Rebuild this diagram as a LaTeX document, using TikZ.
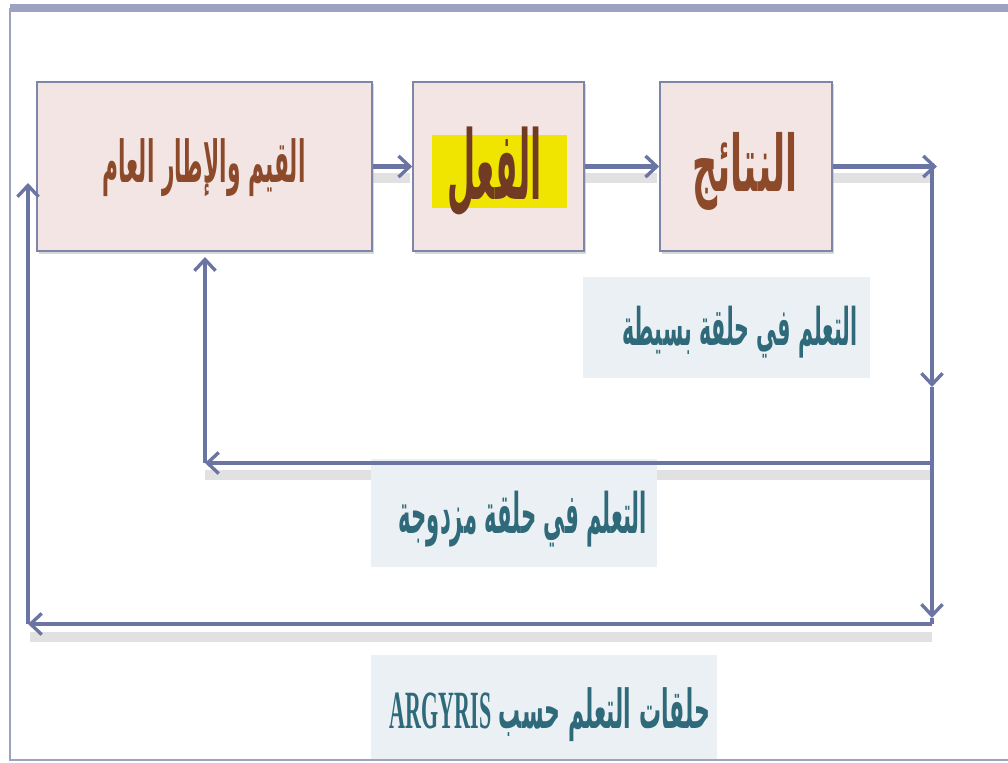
\documentclass[tikz,border=0pt]{standalone}
\usepackage{fontspec}
\usepackage{graphicx}
\usetikzlibrary{arrows.meta}
\TeXXeTstate=1
\newfontfamily\arabicfont[Script=Arabic]{DejaVu Sans}
\newfontfamily\latinserif{Liberation Serif}
\definecolor{linec}{HTML}{6A75A4}
\definecolor{boxfill}{HTML}{F2E5E3}
\definecolor{boxdraw}{HTML}{7D86A8}
\definecolor{labfill}{HTML}{EBF0F4}
\definecolor{browntxt}{HTML}{8C4A2A}
\definecolor{tealtxt}{HTML}{2F6A7A}
\definecolor{framec}{HTML}{9DA2BE}
\definecolor{hilite}{HTML}{F0E500}
\definecolor{shadowc}{HTML}{C9C9C9}
\begin{document}
\begin{tikzpicture}[x=0.025cm,y=-0.025cm,
  mainbox/.style={draw=boxdraw, line width=1.1pt, fill=boxfill, inner sep=0pt, minimum height=4.225cm},
  labbox/.style={fill=labfill, inner sep=0pt},
  txt/.style={inner sep=0pt},
  conn/.style={draw=linec, line width=3pt, -{Straight Barb[length=8pt,width=15pt,line width=2.4pt]}},
  plainline/.style={draw=linec, line width=3pt},
  shad/.style={draw=shadowc, line width=7pt, opacity=0.55},
  boxshad/.style={fill=black!30, opacity=0.5},
]
\useasboundingbox (0,0) rectangle (1008,763);
% coordinates
\coordinate (r1) at (937,166.5);
\coordinate (c1) at (932,166.5);
\coordinate (m1) at (932,387);
\coordinate (c2) at (932,463);
\coordinate (m2) at (932,618);
\coordinate (c3) at (932,624);
\coordinate (c4) at (205,463);
\coordinate (c5) at (28,624);
\coordinate (u1) at (28,183);
\coordinate (u2) at (205,257);
% shadows under horizontal connectors
\draw[shad] (372,178) -- (410,178);
\draw[shad] (584,178) -- (657,178);
\draw[shad] (832,178) -- (932,178);
\draw[shad] (205,475) -- (932,475);
\draw[shad] (30,637) -- (932,637);
% box shadows
\fill[boxshad] (39,84) rectangle (374,253.5);
\fill[boxshad] (415,84) rectangle (586,253.5);
\fill[boxshad] (662,84) rectangle (834,253.5);
% main boxes
\node[mainbox, minimum width=8.375cm] (b1) at (204.5,166.5) {};
\node[mainbox, minimum width=4.275cm] (b2) at (498.5,166.5) {};
\node[mainbox, minimum width=4.3cm] (b3) at (746,166.5) {};
% label boxes
\node[labbox, minimum width=7.175cm, minimum height=2.525cm] (l1) at (726.5,327.5) {};
\node[labbox, minimum width=7.15cm, minimum height=2.7cm] (l2) at (514,513) {};
\node[labbox, minimum width=8.65cm, minimum height=2.625cm] (l3) at (544,707.5) {};
% highlight
\fill[hilite] (432,135) rectangle (567,208);
% texts
\node[txt, text=browntxt] (b1t) at (204,168) {\resizebox*{5.075cm}{1.45cm}{\arabicfont\bfseries\beginR القيم والإطار العام\endR}};
\node[txt, text=browntxt!80!black] (b2t) at (495,172) {\resizebox*{2.35cm}{2.25cm}{\arabicfont\bfseries\beginR الفعل\endR}};
\node[txt, text=browntxt] (b3t) at (745,171) {\resizebox*{2.625cm}{1.95cm}{\arabicfont\bfseries\beginR النتائج\endR}};
\node[txt, text=tealtxt] (l1t) at (740,332) {\resizebox*{5.875cm}{1.3cm}{\arabicfont\bfseries\beginR التعلم في حلقة بسيطة\endR}};
\node[txt, text=tealtxt] (l2t) at (523,519) {\resizebox*{6.2cm}{1.4cm}{\arabicfont\bfseries\beginR التعلم في حلقة مزدوجة\endR}};
\node[txt, text=tealtxt] (l3t) at (550,715) {\resizebox*{8cm}{1.35cm}{\arabicfont\bfseries\beginR حلقات التعلم حسب \beginL{\latinserif ARGYRIS}\endL\endR}};
% connectors
\draw[conn] (b1) -- (b2);
\draw[conn] (b2) -- (b3);
\draw[conn] (b3) -- (r1);
\draw[conn] (c1) -- (m1);
\draw[conn] (m1) -- (m2);
\draw[plainline] (m2) -- (c3);
\draw[conn] (c2) -- (c4);
\draw[conn] (c4) -- (u2);
\draw[conn] (c3) -- (c5);
\draw[conn] (c5) -- (u1);
% frame
\draw[framec, line width=5pt] (10,8) -- (1008,8);
\draw[framec, line width=1.5pt] (10,8) -- (10,760) -- (1008,760);
\end{tikzpicture}
\end{document}
